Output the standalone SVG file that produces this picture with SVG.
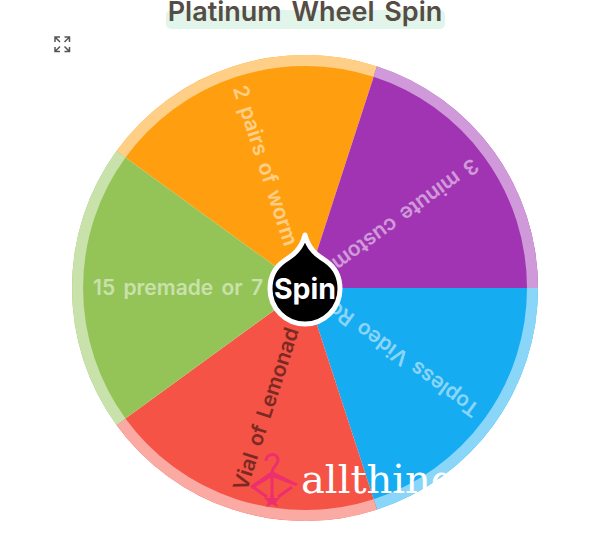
<svg xmlns="http://www.w3.org/2000/svg" width="600" height="534" viewBox="0 0 600 534">
<style>
.slice{stroke:none}
.rim{fill:none;stroke-width:11}
.lbl{font-family:"Inter","Liberation Sans",sans-serif;font-weight:600;font-size:21px;word-spacing:3px;dominant-baseline:central}
.lt{fill:#fff;fill-opacity:.5}
.dk{fill:#000;fill-opacity:.5}
</style>
<rect width="600" height="534" fill="#fff"/>
<g id="title">
<rect x="166" y="10" width="279" height="19" rx="5" fill="#e2f5ea"/>
<text x="305" y="21" text-anchor="middle" font-family="Inter,'Liberation Sans',sans-serif" font-weight="600" font-size="27" word-spacing="3" fill="#564c46">Platinum Wheel Spin</text>
</g>
<g id="expand-icon" fill="none" stroke="#555" stroke-width="1.500">
<path d="M55 42V37H60M64.500 37H69.500V42M69.500 47V51.500H64.500M60 51.500H55V47M55.500 37.500L60 42M69 37.500L64.500 42M55.500 51L60 46.500M69 51L64.500 46.500"/>
</g>
<g id="slice-orange">
<path class="slice" d="M305 288L377 66.400A233 233 0 0 0 116.500 151Z" fill="#ff9f10"/>
<path class="rim" d="M375.300 71.600A227.500 227.500 0 0 0 121 154.300" stroke="#ffcf87"/>
<text class="lbl lt" transform="translate(240 86) rotate(72)">2 pairs of worm s</text>
</g>
<g id="slice-purple">
<path class="slice" d="M305 288L538 288A233 233 0 0 0 377 66.400Z" fill="#a134b3"/>
<path class="rim" d="M532.500 288A227.500 227.500 0 0 0 375.300 71.600" stroke="#d09ada"/>
<text class="lbl lt" transform="translate(476.500 163.400) rotate(144)">3 minute custom</text>
</g>
<g id="slice-blue">
<path class="slice" d="M305 288L377 509.600A233 233 0 0 0 538 288Z" fill="#15acf2"/>
<path class="rim" d="M375.300 504.400A227.500 227.500 0 0 0 532.500 288" stroke="#8ad6f8"/>
<text class="lbl lt" transform="translate(476.500 412.600) rotate(216)">Topless Video Ro</text>
</g>
<g id="slice-red">
<path class="slice" d="M305 288L116.500 425A233 233 0 0 0 377 509.600Z" fill="#f45346"/>
<path class="rim" d="M121 421.700A227.500 227.500 0 0 0 375.300 504.400" stroke="#faa9a3"/>
<text class="lbl dk" transform="translate(239.500 489.600) rotate(-72)">Vial of Lemonad</text>
</g>
<g id="slice-green">
<path class="slice" d="M305 288L116.500 151A233 233 0 0 0 116.500 425Z" fill="#94c457"/>
<path class="rim" d="M121 154.300A227.500 227.500 0 0 0 121 421.700" stroke="#c9e2ab"/>
<text class="lbl lt" x="93" y="287">15 premade or 7</text>
</g>
<g id="spin-button">
<path d="M305 235C309 250 317 255 326 261C336 268 340 278 340 289A35 35 0 0 1 270 289C270 278 274 268 284 261C293 255 301 250 305 235Z" fill="#000" stroke="#fff" stroke-width="5" stroke-linejoin="round"/>
<text x="305" y="299" text-anchor="middle" font-family="Inter,'Liberation Sans',sans-serif" font-weight="700" font-size="28.500" fill="#fff">Spin</text>
</g>
<g id="watermark">
<g fill="none" stroke="#ee2f6e" stroke-width="3">
<path d="M266 461C266 453 278 452 278 460C278 466 272 466 272 473"/>
<path d="M272 475V500M253 487L267 497M292 487L278 497"/>
</g>
<path d="M272 471L298 484L296 486L272 477L252 489L250 486Z" fill="#ee2f6e"/>
<path d="M272 492L274.500 498L280 498L276 502L278 507L272 504L266 507L268 502L264 498L269.500 498Z" fill="#ee2f6e"/>
<text x="301" y="493" font-family="'DejaVu Serif','Liberation Serif',serif" font-size="40" fill="#fff">allthing</text>
</g>
</svg>
